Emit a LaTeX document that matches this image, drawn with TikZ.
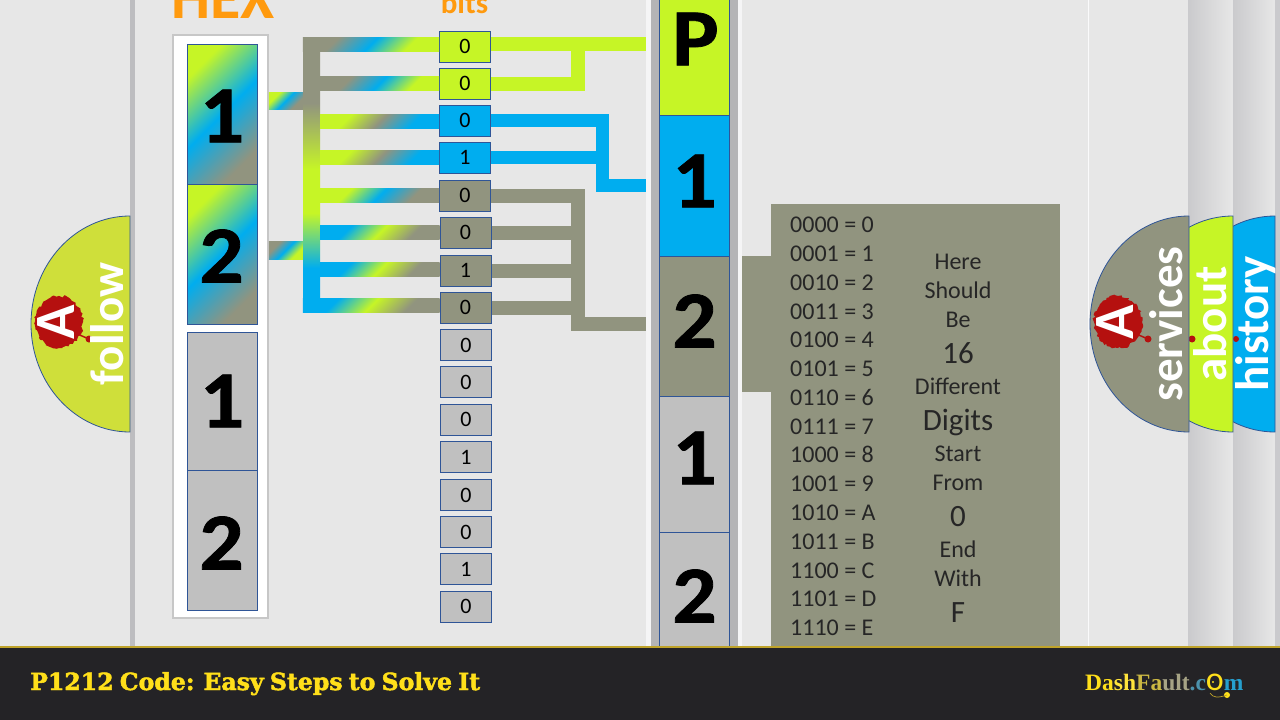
\documentclass[tikz,border=0pt]{standalone}
\usepackage{fontspec}
\setmainfont{Carlito}
\newfontfamily\headfont[FakeBold=2,WordSpace=0.75]{DejaVu Serif}
\newfontfamily\logofont{Liberation Serif}
\newfontfamily\digitfont[FakeStretch=1.08,FakeBold=1]{Carlito}
\usetikzlibrary{arrows.meta,positioning,calc,decorations.pathmorphing}
\definecolor{pagegray}{HTML}{E7E7E7}
\definecolor{stripgray}{HTML}{BDBDC0}
\definecolor{limebit}{HTML}{C6F526}
\definecolor{bluebit}{HTML}{00ADEF}
\definecolor{graybit}{HTML}{91947F}
\definecolor{paleleaf}{HTML}{CFDF3A}
\definecolor{palebit}{HTML}{C0C0C0}
\definecolor{edgeblue}{HTML}{2F5597}
\definecolor{hexorange}{HTML}{FF9A0E}
\definecolor{splatred}{HTML}{B5100F}
\definecolor{bandblack}{HTML}{242326}
\definecolor{bandgold}{HTML}{BFA32A}
\definecolor{titleyellow}{HTML}{FFDF1A}
\newcommand{\rampdef}[4]{\pgfdeclarehorizontalshading{#1}{100bp}{color(0bp)=(#2); color(40bp)=(#2); color(50bp)=(#3); color(60bp)=(#4); color(100bp)=(#4)}}
\rampdef{limebluegray}{limebit}{bluebit}{graybit}
\rampdef{graybluelime}{graybit}{bluebit}{limebit}
\rampdef{limegrayblue}{limebit}{graybit}{bluebit}
\rampdef{bluelimegray}{bluebit}{limebit}{graybit}
\pgfdeclareverticalshading{busramp}{100bp}{color(0bp)=(bluebit); color(33bp)=(bluebit); color(43bp)=(limebit); color(51bp)=(limebit); color(63bp)=(graybit); color(100bp)=(graybit)}
\begin{document}
\begin{tikzpicture}[x=1pt,y=-1pt,
ramp/.style 2 args={path picture={\shade[shading=#1,shading angle=-45] ([shift={(-#2,-#2)}]path picture bounding box.center) rectangle ([shift={(#2,#2)}]path picture bounding box.center);}},
hexbox/.style={draw=edgeblue, line width=1pt, minimum width=70pt, inner sep=0pt},
hexnum/.style={inner sep=0pt, font=\digitfont\bfseries\fontsize{81}{81}\selectfont},
bitbox/.style={draw=edgeblue, line width=1pt, minimum width=51pt, minimum height=31pt, inner sep=0pt, font=\fontsize{22}{22}\selectfont},
wirelime/.style={draw=limebit, line width=14pt},
wireblue/.style={draw=bluebit, line width=13.5pt},
wiregray/.style={draw=graybit, line width=14pt},
chartline/.style={anchor=base west, inner sep=0pt, font=\fontsize{24}{24}\selectfont, text=black!85},
chartnote/.style={anchor=base, inner sep=0pt, font=\fontsize{24}{24}\selectfont, text=black!85},
bignote/.style={anchor=base, inner sep=0pt, font=\fontsize{31}{31}\selectfont, text=black!85},
leaf/.style={draw=edgeblue, line width=.8pt},
leaftext/.style={anchor=base, rotate=90, inner sep=0pt, text=white, font=\fontsize{47}{47}\selectfont\bfseries},
splat/.style={fill=splatred, decorate, decoration={random steps,segment length=2.5pt,amplitude=1.5pt}},
logomark/.style={anchor=center, rotate=90, inner sep=0pt, text=white, font=\fontsize{57}{57}\selectfont\bfseries},
heading/.style={anchor=base, inner sep=0pt, text=hexorange, font=\bfseries}]
\useasboundingbox (0,0) rectangle (1280,720);
\fill[pagegray] (0,0) rectangle (1280,720);
\fill[stripgray] (130,0) rectangle (135,646);
\fill[white!85!stripgray] (646,0) rectangle (651,646);
\fill[stripgray!95!black] (651,0) rectangle (738,646);
\fill[white!85!stripgray] (738,0) rectangle (742,646);
\draw[white!93!stripgray, line width=1pt] (1088,0) -- (1088,646);
\shade[left color=stripgray!80, right color=pagegray] (1188,0) rectangle (1233,646);
\shade[left color=stripgray!80, right color=pagegray] (1233,0) rectangle (1275,646);
\fill[stripgray!80] (1275,0) rectangle (1280,646);
\node[heading, font=\fontsize{62}{62}\selectfont\bfseries] (hextitle) at (223,18) {HEX};
\node[heading, font=\fontsize{31}{31}\selectfont\bfseries] (bitstitle) at (464.5,13) {bits};
\node[draw=black!22, fill=white, line width=1.5pt, minimum width=95pt, minimum height=583pt] (frame) at (220.5,326.5) {};
\node[hexbox, minimum height=140pt, ramp={limebluegray}{125}] (hex1) at (222,114) {};
\node[hexbox, minimum height=140pt, ramp={limebluegray}{125}] (hex2) at (222,254) {};
\node[hexbox, minimum height=138pt, fill=palebit] (hex3) at (222,401) {};
\node[hexbox, minimum height=140pt, fill=palebit] (hex4) at (222,540) {};
\node[hexnum] (hex1num) at (222,116) {1};
\node[hexnum] (hex2num) at (221.5,256) {2};
\node[hexnum] (hex3num) at (222,401) {1};
\node[hexnum] (hex4num) at (221.5,543) {2};
\node[bitbox, fill=limebit] (bit1) at (465,46.5) {0};
\node[bitbox, fill=limebit] (bit2) at (465,83.5) {0};
\node[bitbox, fill=bluebit] (bit3) at (465,120.5) {0};
\node[bitbox, fill=bluebit] (bit4) at (465,157.5) {1};
\node[bitbox, fill=graybit] (bit5) at (465,195.5) {0};
\node[bitbox, fill=graybit] (bit6) at (465.5,232.5) {0};
\node[bitbox, fill=graybit] (bit7) at (465.5,270.5) {1};
\node[bitbox, fill=graybit] (bit8) at (465.5,307.5) {0};
\node[bitbox, fill=palebit] (bit9) at (466,345) {0};
\node[bitbox, fill=palebit] (bit10) at (466,382) {0};
\node[bitbox, fill=palebit] (bit11) at (466,419.5) {0};
\node[bitbox, fill=palebit] (bit12) at (466,457) {1};
\node[bitbox, fill=palebit] (bit13) at (466,495) {0};
\node[bitbox, fill=palebit] (bit14) at (466,532) {0};
\node[bitbox, fill=palebit] (bit15) at (466,569) {1};
\node[bitbox, fill=palebit] (bit16) at (466,606.5) {0};
\node[minimum width=17pt, minimum height=275pt, inner sep=0pt, shading=busramp] (bus) at (311.5,174.5) {};
\path[ramp={limebluegray}{25}] (frame.east |- 0,92) rectangle (bus.west |- 0,109);
\path[ramp={graybluelime}{25}] (frame.east |- 0,241) rectangle (bus.west |- 0,259);
\path[ramp={graybluelime}{70}] ($(bus.west |- bit1.west)+(0,-9)$) rectangle ($(bit1.west)+(0,5)$);
\path[ramp={graybluelime}{62}] ($(bus.east |- bit2.west)+(0,-7)$) rectangle ($(bit2.west)+(0,7)$);
\path[ramp={limegrayblue}{62}] ($(bus.east |- bit3.west)+(0,-6)$) rectangle ($(bit3.west)+(0,8)$);
\path[ramp={limegrayblue}{62}] ($(bus.east |- bit4.west)+(0,-7)$) rectangle ($(bit4.west)+(0,7)$);
\path[ramp={limebluegray}{62}] ($(bus.east |- bit5.west)+(0,-7)$) rectangle ($(bit5.west)+(0,7)$);
\path[ramp={bluelimegray}{62}] ($(bus.east |- bit6.west)+(0,-7)$) rectangle ($(bit6.west)+(0,7)$);
\path[ramp={bluelimegray}{62}] ($(bus.east |- bit7.west)+(0,-8)$) rectangle ($(bit7.west)+(0,6)$);
\path[ramp={bluelimegray}{70}] ($(bus.west |- bit8.west)+(0,-9)$) rectangle ($(bit8.west)+(0,5)$);
\node[hexbox, fill=limebit, minimum height=156pt] (colP) at (694.5,37) {};
\node[hexbox, minimum height=141pt, fill=bluebit] (col1) at (694.5,186) {};
\node[hexbox, minimum height=140pt, fill=graybit] (col2) at (694.5,326) {};
\node[hexbox, minimum height=136pt, fill=palebit] (col3) at (694.5,464) {};
\node[hexbox, minimum height=136pt, fill=palebit] (col4) at (694.5,600) {};
\node[hexnum] (colPnum) at (695.5,39) {P};
\node[hexnum] (col1num) at (694.5,181) {1};
\node[hexnum] (col2num) at (694.5,321) {2};
\node[hexnum] (col3num) at (694.5,458) {1};
\node[hexnum] (col4num) at (694.5,596) {2};
\coordinate (portP) at (646,44);
\coordinate (port1) at (646,185.5);
\coordinate (port2) at (646,324);
\coordinate (limejoin) at (578,44);
\coordinate (bluejoin) at (602.5,185.5);
\coordinate (grayjoin) at (578,324);
\draw[wirelime] ([yshift=2.5pt]bit1.east) -- (portP);
\draw[wirelime] (bit2.east) -| (limejoin);
\draw[wireblue] (bit3.east) -| (bluejoin) -- (port1);
\draw[wireblue] (bit4.east) -- (bit4.east -| bluejoin);
\draw[wiregray] (bit5.east) -| (grayjoin) -- (port2);
\draw[wiregray] (bit6.east) -- (bit6.east -| grayjoin);
\draw[wiregray] (bit7.east) -- (bit7.east -| grayjoin);
\draw[wiregray] (bit8.east) -- (bit8.east -| grayjoin);
\node[fill=graybit, minimum width=289pt, minimum height=442pt, inner sep=0pt] (chart) at (915.5,425) {};
\coordinate (chartport) at (742,324);
\draw[draw=graybit, line width=136pt] (chartport) -- (chart.west |- chartport);
\node[chartline] (hex00) at (790,232) {0000 = 0};
\node[chartline] (hex01) at (790,261) {0001 = 1};
\node[chartline] (hex02) at (790,290) {0010 = 2};
\node[chartline] (hex03) at (790,319) {0011 = 3};
\node[chartline] (hex04) at (790,347) {0100 = 4};
\node[chartline] (hex05) at (790,376) {0101 = 5};
\node[chartline] (hex06) at (790,405) {0110 = 6};
\node[chartline] (hex07) at (790,434) {0111 = 7};
\node[chartline] (hex08) at (790,462) {1000 = 8};
\node[chartline] (hex09) at (790,491) {1001 = 9};
\node[chartline] (hex10) at (790,520) {1010 = A};
\node[chartline] (hex11) at (790,549) {1011 = B};
\node[chartline] (hex12) at (790,578) {1100 = C};
\node[chartline] (hex13) at (790,606) {1101 = D};
\node[chartline] (hex14) at (790,635) {1110 = E};
\node[chartnote] (here) at (958,269) {Here};
\node[chartnote] (should) at (958,298) {Should};
\node[chartnote] (be) at (958,327) {Be};
\node[bignote] (sixteen) at (958,363) {16};
\node[chartnote] (different) at (958,394) {Different};
\node[bignote] (digits) at (958,430) {Digits};
\node[chartnote] (start) at (958,461) {Start};
\node[chartnote] (from) at (958,490) {From};
\node[bignote] (zero) at (958,526) {0};
\node[chartnote] (end) at (958,557) {End};
\node[chartnote] (with) at (958,586) {With};
\node[bignote] (efline) at (958,622) {F};
\draw[leaf, fill=bluebit] (1275,216) arc[start angle=270, end angle=90, x radius=99, y radius=108] -- cycle;
\fill[splatred] (1236,339) circle (3);
\node[leaftext] (historytext) at (1268,324) {history};
\draw[leaf, fill=limebit] (1233,216) arc[start angle=270, end angle=90, x radius=99, y radius=108] -- cycle;
\fill[splatred] (1192,339) circle (3.5);
\node[leaftext] (abouttext) at (1226,324) {about};
\draw[leaf, fill=graybit] (1189,216) arc[start angle=270, end angle=90, x radius=99, y radius=108] -- cycle;
\path[splat] (1118,322) ellipse [x radius=24, y radius=26];
\fill[splatred] (1148,339) circle (3.5);
\draw[splatred, line width=1.5pt] (1134,333) -- (1148,339);
\node[logomark] (servicesmark) at (1115,322) {A};
\node[leaftext] (servicestext) at (1182,324) {services};
\draw[leaf, fill=paleleaf] (130,216) arc[start angle=270, end angle=90, x radius=99, y radius=108] -- cycle;
\path[splat] (59,322) ellipse [x radius=24, y radius=26];
\fill[splatred] (89,339) circle (3.5);
\draw[splatred, line width=1.5pt] (75,333) -- (89,339);
\node[logomark] (followmark) at (56,322) {A};
\node[leaftext] (followtext) at (123,324) {follow};
\fill[bandblack] (0,647) rectangle (1280,720);
\draw[bandgold, line width=2pt] (0,647) -- (1280,647);
\node[anchor=base west, inner sep=0pt, text=titleyellow, font=\headfont\bfseries\fontsize{23.6}{23.6}\selectfont] (title) at (30,690) {P1212 Code: Easy Steps to Solve It};
\node[anchor=base west, inner sep=0pt, font=\logofont\bfseries\fontsize{23.5}{23.5}\selectfont] (logo) at (1085,690) {\textcolor{titleyellow}{Da}\textcolor{titleyellow!85!white}{sh}\textcolor{titleyellow!60!gray}{Fa}\textcolor{gray!80!yellow}{ult}\textcolor{gray!60!bluebit}{.c}\textcolor{titleyellow}{\rmfamily\mdseries\fontsize{34}{34}\selectfont o}\textcolor{bluebit!70!gray}{m}};
\fill[titleyellow] (1213,682) circle (1.2);
\fill[titleyellow] (1227,695) circle (3);
\draw[bandgold, line width=.7pt] (1210,693) .. controls (1213,698) and (1218,698) .. (1227,695);
\end{tikzpicture}
\end{document}
